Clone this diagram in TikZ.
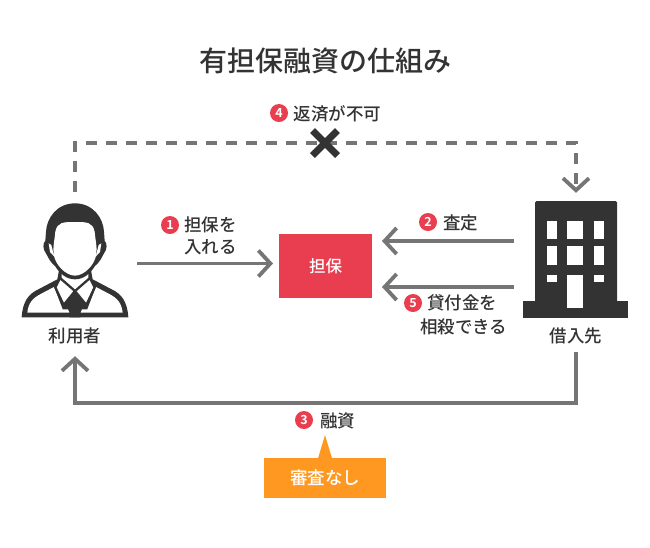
\documentclass[tikz,border=0pt]{standalone}
\usepackage{fontspec}
\setmainfont{Noto Sans CJK JP}[BoldFont={Noto Sans CJK JP Bold}]
\newfontfamily\jpmed{Noto Sans CJK JP Medium}
\usetikzlibrary{arrows.meta,calc}
\definecolor{ink}{HTML}{333333}
\definecolor{flow}{HTML}{757575}
\definecolor{redc}{HTML}{E83E4F}
\definecolor{orangec}{HTML}{FF9821}
\tikzset{
  lbl/.style={inner sep=0pt,text=ink,font=\jpmed\fontsize{17.5}{20}\selectfont,anchor=west},
  ctr/.style={inner sep=0pt,text=ink,font=\jpmed\fontsize{17.5}{20}\selectfont,anchor=center},
  num/.style={circle,fill=redc,text=white,inner sep=0pt,minimum size=18pt,font=\fontsize{12.5}{13}\bfseries\selectfont},
  flowline/.style={draw=flow,line width=3.4pt,-{Straight Barb[length=12pt,width=26pt,line width=3.8pt]}},
  anchorbox/.style={inner sep=0pt,minimum width=124pt},
  tone/.style={fill=ink,draw=none}
}
\begin{document}
\begin{tikzpicture}[x=1pt,y=-1pt]
\useasboundingbox (0,0) rectangle (650,547);
\fill[white] (0,0) rectangle (650,547);
% anchor nodes
\node[anchorbox,minimum height=164pt] (person) at (75,274) {};
\node[anchorbox,minimum height=159pt] (bank) at (576,272.5) {};
\node[fill=redc,inner sep=0pt,minimum width=93pt,minimum height=64pt,text=white,font=\jpmed\fontsize{16.5}{20}\selectfont] (coll) at (325.5,266) {担保};
\coordinate (top) at (325,143);
\coordinate (bot) at (325,403);
\coordinate (pa) at (137,263.5);
\coordinate (pb) at (273,263.5);
\coordinate (ba) at (514,241);
\coordinate (bb) at (382,241);
\coordinate (ca) at (514,287);
\coordinate (cb) at (382,287);
% connectors
\draw[flowline,dash pattern=on 11pt off 9pt] (person.north) |- (top) -| (bank.north);
\draw[flowline] (bank.south) |- (bot) -| (person.south);
\draw[flowline] (pa) -- (pb);
\draw[flowline] (ba) -- (bb);
\draw[flowline] (ca) -- (cb);
% cross
\node[inner sep=0pt,minimum size=30pt] (cross) at (top) {};
\draw[ink,line width=7pt] ($(cross)+(-12.5,-12.5)$) -- ($(cross)+(12.5,12.5)$);
\draw[ink,line width=7pt] ($(cross)+(-12.5,12.5)$) -- ($(cross)+(12.5,-12.5)$);
% person icon (zoom coordinates)
\begin{scope}[shift={(0,190)},x=0.3333pt,y=-0.3333pt]
  \fill[white] (60,30) rectangle (390,385);
  % body
  \fill[ink] (65,382) .. controls (68,335) and (85,312) .. (115,298) -- (172,268) -- (178,235) -- (272,235) -- (278,268) -- (335,298) .. controls (365,312) and (382,335) .. (385,382) -- cycle;
  % shoulder panels
  \fill[white] (82,368) .. controls (85,340) and (97,325) .. (122,312) -- (162,291) -- (188,358) -- (204,358) -- (208,368) -- cycle;
  \fill[white] (368,368) .. controls (365,340) and (353,325) .. (328,312) -- (288,291) -- (262,358) -- (246,358) -- (242,368) -- cycle;
  % neck
  \fill[white] (185,235) -- (265,235) -- (265,268) -- (225,302) -- (185,268) -- cycle;
  % collar
  \draw[ink,line width=2.3pt,line join=round,fill=white] (180,264) -- (225,303) -- (191,345) -- (166,292) -- cycle;
  \draw[ink,line width=2.3pt,line join=round,fill=white] (270,264) -- (225,303) -- (259,345) -- (284,292) -- cycle;
  % tie
  \fill[ink] (225,312) -- (238,332) -- (232,346) -- (241,382) -- (209,382) -- (218,346) -- (212,332) -- cycle;
  % head and hair
  \fill[ink] (225,40) .. controls (170,40) and (140,85) .. (138,125) -- (136,152) .. controls (128,160) and (128,178) .. (138,190) .. controls (146,205) and (150,215) .. (165,228) .. controls (180,252) and (200,268) .. (225,268) .. controls (250,268) and (270,252) .. (285,228) .. controls (300,215) and (304,205) .. (312,190) .. controls (322,178) and (322,160) .. (314,152) -- (312,125) .. controls (310,85) and (280,40) .. (225,40) -- cycle;
  % face
  \fill[white] (225,96) .. controls (190,96) and (172,96) .. (166,125) .. controls (164,150) and (158,170) .. (161,192) .. controls (165,225) and (198,257) .. (225,257) .. controls (252,257) and (285,225) .. (289,192) .. controls (292,170) and (286,150) .. (284,125) .. controls (278,96) and (260,96) .. (225,96) -- cycle;
  % ears
  \fill[white] (146,160) -- (154,165) -- (163,200) -- (150,186) -- cycle;
  \fill[white] (304,160) -- (296,165) -- (287,200) -- (300,186) -- cycle;
\end{scope}
% building icon
\fill[ink,rounded corners=1.5pt] (535,201) rectangle (617,310);
\fill[ink] (523,301) rectangle (628,317.5);
\fill[white] (547,221) rectangle (557,239);
\fill[white] (567,221) rectangle (583,239);
\fill[white] (594,221) rectangle (604,239);
\fill[white] (547,246) rectangle (557,265);
\fill[white] (567,246) rectangle (583,265);
\fill[white] (594,246) rectangle (604,265);
\fill[white] (547,275) rectangle (557,282);
\fill[white] (594,275) rectangle (604,282);
\fill[white] (567,275) rectangle (583,308);
% title
\node[inner sep=0pt,text=ink,font=\jpmed\fontsize{28}{32}\selectfont] (title) at (325.5,61) {有担保融資の仕組み};
% labels
\node[num] (n4) at (279,113) {4};
\node[lbl] (l4) at (293.5,114) {返済が不可};
\node[num] (n1) at (170,225) {1};
\node[lbl] (l1a) at (184,225) {担保を};
\node[lbl] (l1b) at (184,247) {入れる};
\node[num] (n2) at (428,222) {2};
\node[lbl] (l2) at (443,223) {査定};
\node[num] (n5) at (413,303) {5};
\node[lbl] (l5a) at (427,303) {貸付金を};
\node[lbl] (l5b) at (420,327) {相殺できる};
\node[num] (n3) at (304,420) {3};
\node[lbl] (l3) at (320,421) {融資};
\node[ctr] (lp) at (75,336) {利用者};
\node[ctr] (lb) at (576,336) {借入先};
% callout
\node[fill=orangec,inner sep=0pt,minimum width=122pt,minimum height=40pt,text=white,font=\jpmed\fontsize{17.5}{20}\selectfont] (call) at (325,478) {審査なし};
\fill[orangec] (call.north) ++(-7,0.5) -- (325,435) -- ($(call.north)+(7,0.5)$) -- cycle;
\end{tikzpicture}
\end{document}
